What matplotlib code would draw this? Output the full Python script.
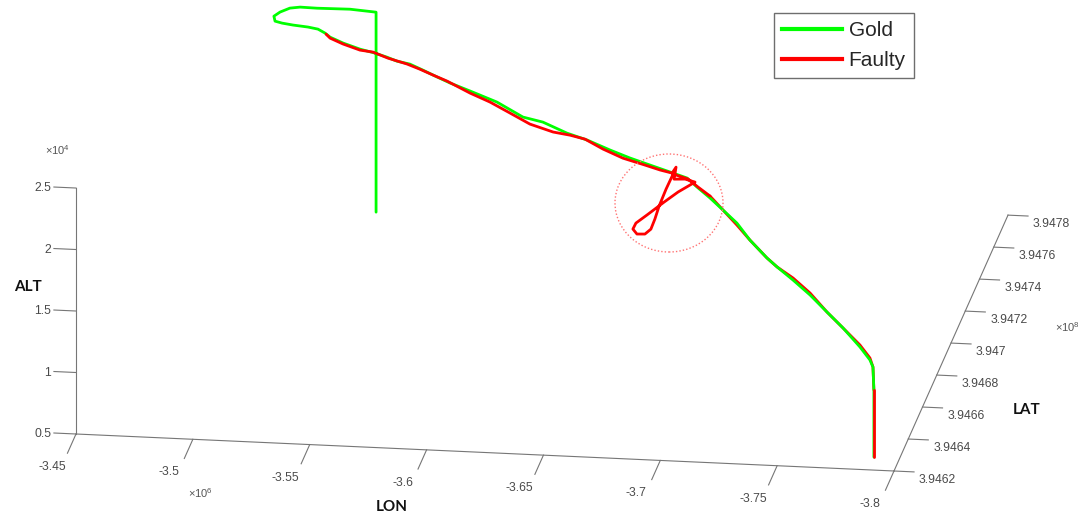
import numpy as np
import matplotlib
matplotlib.use("Agg")
import matplotlib.pyplot as plt
from matplotlib.lines import Line2D
from matplotlib.patches import Ellipse

plt.rcParams['mathtext.fontset'] = 'custom'
plt.rcParams['mathtext.rm'] = 'Liberation Sans'
plt.rcParams['mathtext.it'] = 'Liberation Sans'

# ---------------- flight tracks ----------------
gold_lon = [-3534400, -3534400, -3522900, -3508900, -3501600, -3497500, -3494100,
            -3492300, -3493700, -3497000, -3502000, -3508600, -3513200, -3516800,
            -3519300, -3525800, -3534300, -3541800, -3547800, -3552800, -3559300,
            -3565800, -3572900, -3579400, -3589400, -3602900, -3615900, -3625900,
            -3638000, -3648000, -3659500, -3669500, -3679500, -3689600, -3698100,
            -3703100, -3709600, -3716100, -3723100, -3729600, -3738100, -3743200,
            -3751200, -3759700, -3768200, -3776200, -3784700, -3789700, -3791000,
            -3791400, -3791400]
gold_lat = [394764300, 394764300, 394765400, 394765100, 394765300, 394764400, 394761700,
            394759000, 394756000, 394755000, 394754100, 394753300, 394752300, 394750500,
            394749300, 394746200, 394742100, 394738500, 394735600, 394733200, 394730100,
            394727000, 394723700, 394720600, 394715800, 394709300, 394703100, 394698300,
            394692500, 394687800, 394682300, 394677500, 394672700, 394667900, 394663800,
            394661400, 394658300, 394655200, 394651800, 394648700, 394644700, 394642300,
            394638400, 394634400, 394630300, 394626500, 394622400, 394620000, 394620000,
            394620000, 394620000]
gold_alt = [5000, 21260, 21260, 21260, 21260, 21260, 21260, 21260, 21260, 21260, 21260,
            21260, 21260, 21200, 21050, 21030, 21140, 21350, 21450, 21480, 21700, 21670,
            21600, 21570, 21630, 21690, 21390, 21690, 21650, 21790, 21790, 21850, 21990,
            22130, 22250, 21870, 21440, 20920, 20360, 19440, 18580, 18200, 17710, 17090,
            16310, 15580, 14640, 13940, 13380, 11510, 6060]

faulty_lon = [-3517300, -3519300, -3525800, -3534300, -3540800, -3548300, -3557800,
              -3564300, -3570900, -3577900, -3589400, -3599400, -3609400, -3619400,
              -3631000, -3639500, -3647000, -3656000, -3666000, -3677000, -3684600,
              -3690600, -3692600, -3691600, -3697100, -3702100, -3693600, -3686600,
              -3678000, -3672500, -3671000, -3673000, -3677000, -3680000, -3682000,
              -3684100, -3687600, -3691100, -3698600, -3703600, -3709600, -3716100,
              -3723100, -3729600, -3738100, -3743200, -3751200, -3759700, -3768200,
              -3776200, -3784700, -3789700, -3791000, -3791400, -3791400]
faulty_lat = [394750200, 394749300, 394746200, 394742100, 394739000, 394735400, 394730900,
              394727700, 394724600, 394721300, 394715800, 394711000, 394706200, 394701400,
              394695900, 394691800, 394688200, 394683900, 394679100, 394673900, 394670300,
              394667400, 394666400, 394666900, 394664300, 394661900, 394666000, 394669300,
              394673400, 394676000, 394676700, 394675800, 394673900, 394672400, 394671500,
              394670500, 394668800, 394667200, 394663600, 394661200, 394658300, 394655200,
              394651800, 394648700, 394644700, 394642300, 394638400, 394634400, 394630300,
              394626500, 394622400, 394620000, 394620000, 394620000, 394620000]
faulty_alt = [21160, 20970, 20950, 21060, 21360, 21400, 21590, 21640, 21620, 21620, 21460,
              21440, 21260, 21070, 21240, 21590, 21800, 21630, 21600, 21810, 21940, 22120,
              22750, 21700, 22090, 22200, 20790, 19480, 17820, 16780, 16190, 15920, 16200,
              16820, 17780, 18980, 20610, 22070, 22200, 21900, 21600, 20920, 20200, 19440,
              18580, 18200, 17880, 17250, 16310, 15580, 14800, 14100, 13380, 11510, 6060]

# ---------------- axes ----------------
lon_lim = (-3.45e6, -3.8e6)
lat_lim = (3.9462e8, 3.9478e8)
alt_lim = (5000, 25000)
lon_ticks = [-3.45e6, -3.5e6, -3.55e6, -3.6e6, -3.65e6, -3.7e6, -3.75e6, -3.8e6]
lon_labels = ['-3.45', '-3.5', '-3.55', '-3.6', '-3.65', '-3.7', '-3.75', '-3.8']
lat_ticks = [3.9462e8, 3.9464e8, 3.9466e8, 3.9468e8, 3.947e8, 3.9472e8, 3.9474e8,
             3.9476e8, 3.9478e8]
lat_labels = ['3.9462', '3.9464', '3.9466', '3.9468', '3.947', '3.9472', '3.9474',
              '3.9476', '3.9478']
alt_ticks = [5000, 10000, 15000, 20000, 25000]
alt_labels = ['0.5', '1', '1.5', '2', '2.5']

W, H = 1086, 518
fig = plt.figure(figsize=(W / 100, H / 100), dpi=100)
ax = fig.add_axes([0.3, 0.0, H / W, 1.0], projection='3d', computed_zorder=False)
ax.set_proj_type('ortho')
ax.view_init(elev=18.58, azim=-81.92)
ax.set_box_aspect((826.2, 811.1, 259.5))
ax.set_xlim(*lon_lim)
ax.set_ylim(*lat_lim)
ax.set_zlim(*alt_lim)
ax.set_axis_off()

fig.canvas.draw()
M = ax.get_proj()


def proj2d(x, y, z):
    v = M @ np.array([x, y, z, 1.0])
    return v[0] / v[3], v[1] / v[3]


def to_disp(x, y, z):
    return ax.transData.transform(proj2d(x, y, z))


# place the box so the origin corner and the far LON end sit where wanted
lon0, lat0, z0 = lon_lim[0], lat_lim[0], alt_lim[0]
t_o = np.array([76.0, H - 434.0])
t_x = np.array([894.0, H - 471.0])
p_o = to_disp(lon0, lat0, z0)
p_x = to_disp(lon_lim[1], lat0, z0)
s = np.linalg.norm(t_x - t_o) / np.linalg.norm(p_x - p_o)
bb = ax.get_position()
C = np.array([(bb.x0 + bb.width / 2) * W, (bb.y0 + bb.height / 2) * H])
S = bb.width * W
C_new = t_o - s * (p_o - C)
S_new = S * s
ax.set_position([(C_new[0] - S_new / 2) / W, (C_new[1] - S_new / 2) / H,
                 S_new / W, S_new / H])

# ---------------- axis lines and ticks ----------------
axc = '#767676'
alw = 0.8
dlon = lon_lim[1] - lon_lim[0]
dlat = lat_lim[1] - lat_lim[0]
ax.plot([lon_lim[0], lon_lim[1]], [lat0, lat0], [z0, z0], color=axc, lw=alw, zorder=1)
ax.plot([lon_lim[1], lon_lim[1]], [lat_lim[0], lat_lim[1]], [z0, z0], color=axc, lw=alw, zorder=1)
ax.plot([lon0, lon0], [lat0, lat0], [alt_lim[0], alt_lim[1]], color=axc, lw=alw, zorder=1)

tick_font = dict(family='Liberation Sans', size=8.7, color='#4a4a4a')
for v, lab in zip(lon_ticks, lon_labels):
    ax.plot([v, v], [lat0, lat0 - 0.075 * dlat], [z0, z0], color=axc, lw=alw, zorder=1)
    ax.annotate(lab, xy=proj2d(v, lat0, z0), xycoords='data', xytext=(-24, -33),
                textcoords='offset pixels', ha='center', va='center',
                annotation_clip=False, **tick_font)
for v, lab in zip(lat_ticks, lat_labels):
    ax.plot([lon_lim[1], lon_lim[1] + 0.0245 * dlon], [v, v], [z0, z0], color=axc, lw=alw, zorder=1)
    ax.annotate(lab, xy=proj2d(lon_lim[1], v, z0), xycoords='data', xytext=(25, -9),
                textcoords='offset pixels', ha='left', va='center',
                annotation_clip=False, **tick_font)
for v, lab in zip(alt_ticks, alt_labels):
    ax.plot([lon0, lon0 - 0.027 * dlon], [lat0, lat0], [v, v], color=axc, lw=alw, zorder=1)
    ax.annotate(lab, xy=proj2d(lon0, lat0, v), xycoords='data', xytext=(-25, 0),
                textcoords='offset pixels', ha='right', va='center',
                annotation_clip=False, **tick_font)

# ---------------- tracks ----------------
green = (0.0, 1.0, 0.0)
red = (1.0, 0.0, 0.0)
lw = 2.0
ax.plot(gold_lon, gold_lat, gold_alt, color=green, lw=lw, zorder=3,
        solid_capstyle='round', solid_joinstyle='round')
# faulty track: drawn above the gold one up to the anomaly, beneath it on the
# final approach, and above it again on the last descent
n_top, n_app = 41, 54
for sl, zo in ((slice(0, n_top), 4), (slice(n_top - 1, n_app), 2), (slice(n_app - 1, None), 4)):
    ax.plot(faulty_lon[sl], faulty_lat[sl], faulty_alt[sl], color=red, lw=lw, zorder=zo,
            solid_capstyle='round', solid_joinstyle='round')

# ---------------- annotations ----------------
lab_font = dict(family='Lato', weight='bold', size=11, color='#111111')
fig.text(28 / W, 1 - 287 / H, 'ALT', ha='center', va='center', **lab_font)
fig.text(392 / W, 1 - 507 / H, 'LON', ha='center', va='center', **lab_font)
fig.text(1027 / W, 1 - 410 / H, 'LAT', ha='center', va='center', **lab_font)

exp_font = dict(size=8, color='#555555')
fig.text(58 / W, 1 - 150 / H, r'$\times10^{4}$', ha='center', va='center', **exp_font)
fig.text(200 / W, 1 - 493 / H, r'$\times10^{6}$', ha='center', va='center', **exp_font)
fig.text(1067 / W, 1 - 327 / H, r'$\times10^{8}$', ha='center', va='center', **exp_font)

fig.add_artist(Ellipse((669 / W, 1 - 203 / H), 108 / W, 98 / H, transform=fig.transFigure,
                       fill=False, ls=(0, (1, 1.5)), lw=1.0, ec=(1.0, 0.45, 0.45)))

handles = [Line2D([], [], color=green, lw=3), Line2D([], [], color=red, lw=3)]
leg = fig.legend(handles, ['Gold', 'Faulty'], loc='upper left',
                 bbox_to_anchor=(774 / W, 1 - 13 / H), bbox_transform=fig.transFigure,
                 prop={'family': 'Liberation Sans', 'size': 15}, handlelength=2.9,
                 handletextpad=0.3, borderpad=0.38, labelspacing=0.53, borderaxespad=0,
                 fancybox=False, framealpha=1, edgecolor='#6e6e6e')
leg.get_frame().set_linewidth(1.0)
for t in leg.get_texts():
    t.set_color('#262626')

fig.savefig('out.png', dpi=100)
